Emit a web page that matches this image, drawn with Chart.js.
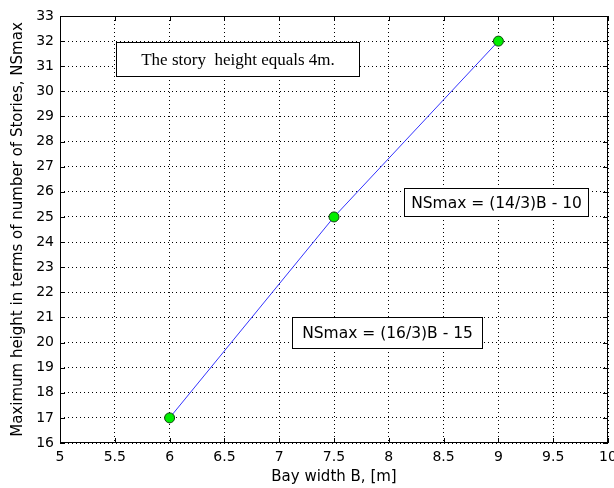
<!DOCTYPE html>
<html>
<head>
<meta charset="utf-8">
<script src="https://cdn.jsdelivr.net/npm/chart.js@4/dist/chart.umd.min.js"></script>
<style>
  html, body { margin: 0; padding: 0; background: #fff; }
  #wrap { width: 614px; height: 488px; }
</style>
</head>
<body>
<div id="wrap"><canvas id="nsChart" width="614" height="488"></canvas></div>
<script>
// bay width (m) and max number of stories
const bayWidth = [6, 7.5, 9];
const nsMax = [17, 25, 32];

const xTicks = [5, 5.5, 6, 6.5, 7, 7.5, 8, 8.5, 9, 9.5, 10];
const yTicks = [16, 17, 18, 19, 20, 21, 22, 23, 24, 25, 26, 27, 28, 29, 30, 31, 32, 33];

// annotation boxes: top-left / bottom-right corners in data units, text, font
const notes = [
  { x0: 5.515, y0: 31.95, x1: 7.73, y1: 30.63, text: 'The story  height equals 4m.', font: '17px "Liberation Serif", serif' },
  { x0: 8.14, y0: 26.17, x1: 9.82, y1: 25.02, text: 'NSmax = (14/3)B - 10', font: '15.5px "DejaVu Sans", sans-serif' },
  { x0: 7.12, y0: 21.0, x1: 8.85, y1: 19.77, text: 'NSmax = (16/3)B - 15', font: '15.5px "DejaVu Sans", sans-serif' }
];

const tickFont = { family: '"DejaVu Sans", sans-serif', size: 14 };
const titleFont = { family: '"DejaVu Sans", sans-serif', size: 15 };

// box outline + inward tick marks, like a boxed matlab axes
const frame = {
  id: 'frame',
  afterDatasetsDraw(chart) {
    const { ctx, chartArea: a, scales } = chart;
    ctx.save();
    ctx.strokeStyle = '#000';
    ctx.lineWidth = 1;
    ctx.beginPath();
    xTicks.forEach(v => {
      const px = Math.round(scales.x.getPixelForValue(v)) + 0.5;
      ctx.moveTo(px, a.bottom); ctx.lineTo(px, a.bottom - 5);
      ctx.moveTo(px, a.top); ctx.lineTo(px, a.top + 5);
    });
    yTicks.forEach(v => {
      const py = Math.round(scales.y.getPixelForValue(v)) + 0.5;
      ctx.moveTo(a.left, py); ctx.lineTo(a.left + 5, py);
      ctx.moveTo(a.right, py); ctx.lineTo(a.right - 5, py);
    });
    ctx.stroke();
    ctx.strokeRect(Math.round(a.left) + 0.5, Math.round(a.top) + 0.5,
      Math.round(a.right - a.left) - 1, Math.round(a.bottom - a.top) - 1);
    ctx.restore();
  },
  afterDraw(chart) {
    const { ctx, scales } = chart;
    ctx.save();
    notes.forEach(n => {
      const x0 = Math.round(scales.x.getPixelForValue(n.x0)) + 0.5;
      const y0 = Math.round(scales.y.getPixelForValue(n.y0)) + 0.5;
      const x1 = Math.round(scales.x.getPixelForValue(n.x1)) + 0.5;
      const y1 = Math.round(scales.y.getPixelForValue(n.y1)) + 0.5;
      ctx.fillStyle = '#fff';
      ctx.fillRect(x0, y0, x1 - x0, y1 - y0);
      ctx.strokeStyle = '#000';
      ctx.lineWidth = 1;
      ctx.strokeRect(x0, y0, x1 - x0, y1 - y0);
      ctx.font = n.font;
      ctx.fillStyle = '#000';
      ctx.textBaseline = 'middle';
      ctx.textAlign = 'center';
      ctx.fillText(n.text, (x0 + x1) / 2, (y0 + y1) / 2 + 1);
    });
    ctx.restore();
  }
};

const gridStyle = {
  color: '#000',
  lineWidth: 1,
  drawTicks: false,
  tickLength: 0
};

new Chart(document.getElementById('nsChart').getContext('2d'), {
  type: 'line',
  data: {
    datasets: [{
      data: bayWidth.map((b, i) => ({ x: b, y: nsMax[i] })),
      borderColor: '#3333ff',
      borderWidth: 1,
      pointRadius: 5,
      pointBackgroundColor: '#00ee00',
      pointBorderColor: '#114411',
      pointBorderWidth: 1,
      tension: 0
    }]
  },
  options: {
    responsive: false,
    animation: false,
    layout: { padding: { left: 0, top: 16, right: 4, bottom: 0 } },
    plugins: { legend: { display: false }, tooltip: { enabled: false } },
    scales: {
      x: {
        type: 'linear',
        min: 5, max: 10,
        afterBuildTicks: s => { s.ticks = xTicks.map(v => ({ value: v })); },
        afterFit: s => { s.height = 45; s.paddingLeft = 0; s.paddingRight = 0; },
        grid: gridStyle,
        border: { display: false, dash: [1, 3] },
        ticks: { font: tickFont, color: '#000', padding: 6, maxRotation: 0, autoSkip: false, callback: v => String(v) },
        title: { display: true, text: 'Bay width B, [m]', font: titleFont, color: '#000', padding: { top: 0, bottom: 2 } }
      },
      y: {
        type: 'linear',
        min: 16, max: 33,
        afterBuildTicks: s => { s.ticks = yTicks.map(v => ({ value: v })); },
        afterFit: s => { s.width = 60; s.paddingTop = 0; s.paddingBottom = 0; },
        grid: gridStyle,
        border: { display: false, dash: [1, 3] },
        ticks: { font: tickFont, color: '#000', padding: 6, autoSkip: false, callback: v => String(v) },
        title: { display: true, text: 'Maximum height in terms of number of Stories, NSmax', font: titleFont, color: '#000', padding: { top: 9, bottom: 0 } }
      }
    }
  },
  plugins: [frame]
});
</script>
</body>
</html>
